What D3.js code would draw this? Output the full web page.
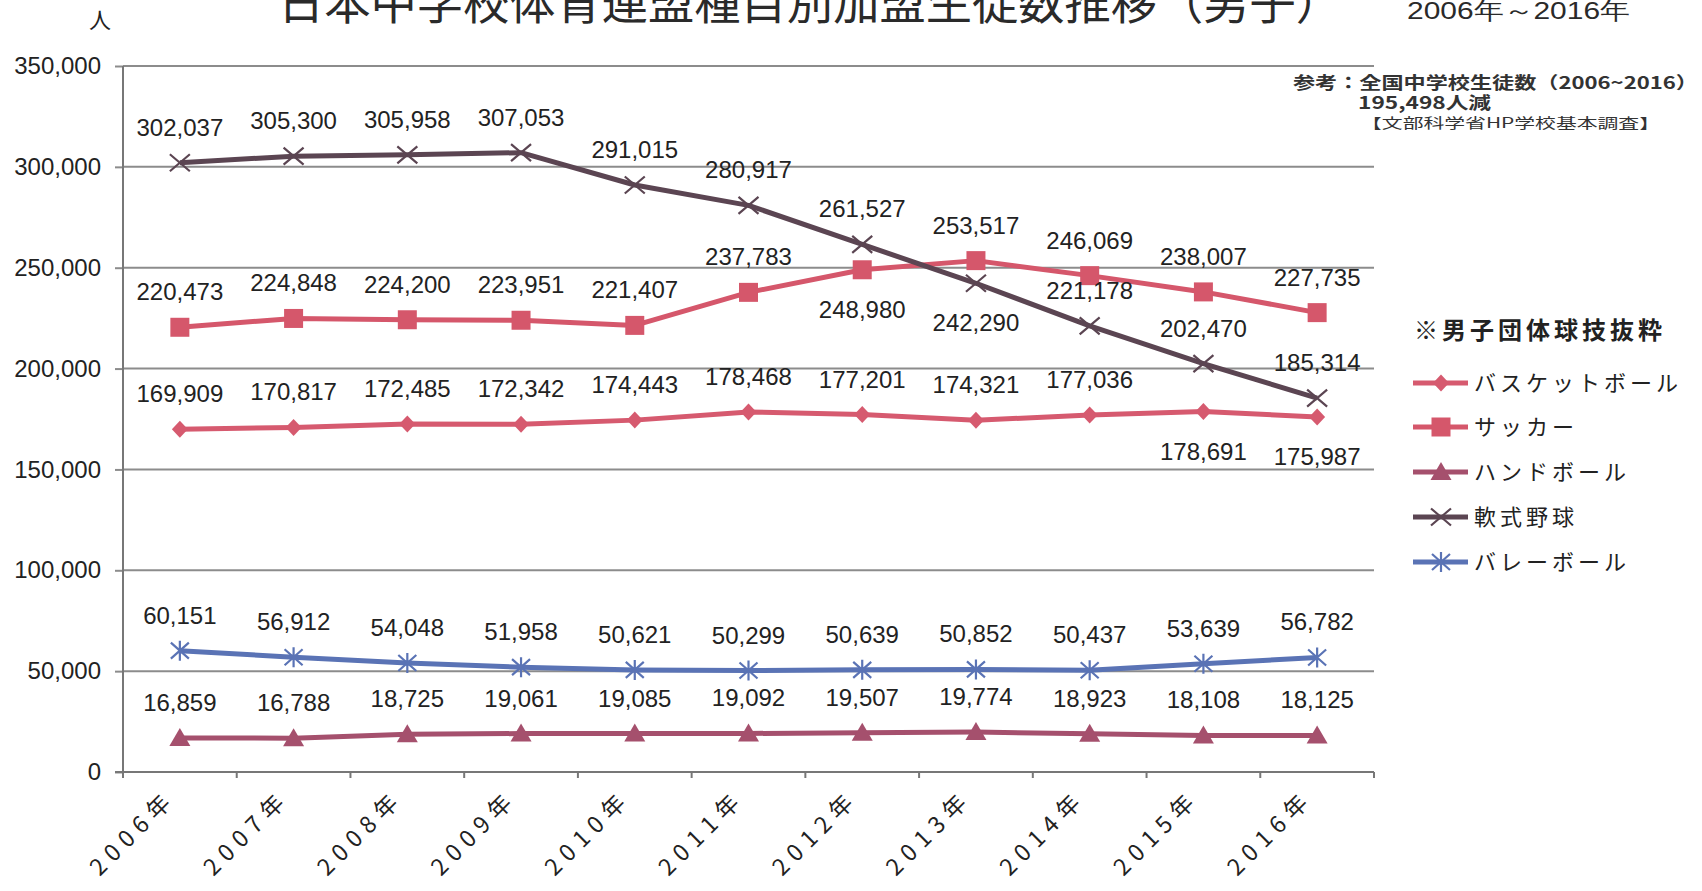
<!DOCTYPE html>
<html><head><meta charset="utf-8">
<script src="https://cdn.jsdelivr.net/npm/d3@7"></script>
<style>
html,body{margin:0;padding:0;background:#fff;}
svg{display:block;}
</style></head>
<body>
<svg id="chart" width="1702" height="891"></svg>
<script>
// ---------------- DATA ----------------
const years = ["2006","2007","2008","2009","2010","2011","2012","2013","2014","2015","2016"];
const yearSuffix = "年";
const yTicks = [0,50000,100000,150000,200000,250000,300000,350000];
const yTickLabels = ["0","50,000","100,000","150,000","200,000","250,000","300,000","350,000"];

const seriesNames = ["バスケットボール","サッカー","ハンドボール","軟式野球","バレーボール"];
const basketball = [169909,170817,172485,172342,174443,178468,177201,174321,177036,178691,175987];
const soccer     = [220473,224848,224200,223951,221407,237783,248980,253517,246069,238007,227735];
const handball   = [16859,16788,18725,19061,19085,19092,19507,19774,18923,18108,18125];
const baseball   = [302037,305300,305958,307053,291015,280917,261527,242290,221178,202470,185314];
const volleyball = [60151,56912,54048,51958,50621,50299,50639,50852,50437,53639,56782];
// indexes whose value label sits below the point
const basketballBelow = [9,10];
const soccerBelow = [6];
const handballBelow = [];
const baseballBelow = [7];
const volleyballBelow = [];

const titleText = "日本中学校体育連盟種目別加盟生徒数推移（男子）";
const periodText = "2006年～2016年";
const unitText = "人";
const legendTitle = "※男子団体球技抜粋";
const noteLines = ["参考：全国中学校生徒数（2006~2016）","195,498人減","【文部科学省HP学校基本調査】"];

// ---------------- STYLE / LAYOUT ----------------
const svg = d3.select("#chart");
const L = 123, R = 1374, T = 66, B = 772;
const numFont = "'Liberation Sans', Arial, sans-serif";
const jpFont = "'Noto Sans CJK JP', 'Noto Sans', sans-serif";
const gridColor = "#8c8c8c";

const x = d3.scaleBand().domain(years).range([L, R]);
const bw = x.bandwidth();
const cx = d => x(d) + bw / 2;
const y = d3.scaleLinear().domain([0, 350000]).range([B, T]);

// custom marker shapes
const shapes = {
  diamond: {draw(c){ c.moveTo(0,-8.5); c.lineTo(8,0); c.lineTo(0,8.5); c.lineTo(-8,0); c.closePath(); }},
  square:  {draw(c){ c.rect(-9.5,-9.5,19,19); }},
  triangle:{draw(c){ c.moveTo(0,-10); c.lineTo(10.5,8); c.lineTo(-10.5,8); c.closePath(); }},
  times:   {draw(c){ c.moveTo(-10,-8.5); c.lineTo(10,8.5); c.moveTo(10,-8.5); c.lineTo(-10,8.5); }},
  asterisk:{draw(c){ c.moveTo(0,-10); c.lineTo(0,10); c.moveTo(-9,-8); c.lineTo(9,8); c.moveTo(9,-8); c.lineTo(-9,8); }}
};

const series = [
  {name: seriesNames[0], values: basketball, below: basketballBelow, color: "#d65a6f", shape: "diamond", fill: true},
  {name: seriesNames[1], values: soccer,     below: soccerBelow,     color: "#d5576b", shape: "square", fill: true},
  {name: seriesNames[2], values: handball,   below: handballBelow,   color: "#a5506d", shape: "triangle", fill: true},
  {name: seriesNames[3], values: baseball,   below: baseballBelow,   color: "#5b4552", shape: "times", fill: false},
  {name: seriesNames[4], values: volleyball, below: volleyballBelow, color: "#5a73b5", shape: "asterisk", fill: false}
];

// ---------------- GRID & AXES ----------------
svg.append("g").selectAll("line").data(yTicks.filter(v => v > 0)).join("line")
  .attr("x1", L).attr("x2", R).attr("y1", d => y(d)).attr("y2", d => y(d))
  .attr("stroke", gridColor).attr("stroke-width", 2);

const yAxis = d3.axisLeft(y).tickValues(yTicks).tickSize(8).tickPadding(14)
  .tickFormat((d, i) => yTickLabels[i]);
const gy = svg.append("g").attr("transform", `translate(${L},0)`).call(yAxis);
gy.select(".domain").remove();
gy.selectAll(".tick line").attr("stroke", gridColor).attr("stroke-width", 2);
gy.selectAll(".tick text").attr("font-family", numFont).attr("font-size", 24).attr("fill", "#222");
svg.append("line").attr("x1", L).attr("x2", L).attr("y1", T).attr("y2", B + 4)
  .attr("stroke", "#777").attr("stroke-width", 2);

// x axis
svg.append("line").attr("x1", L - 8).attr("x2", R).attr("y1", B).attr("y2", B)
  .attr("stroke", "#777").attr("stroke-width", 2);
svg.append("g").selectAll("line").data(years.concat(["end"])).join("line")
  .attr("x1", (d, i) => L + i * bw).attr("x2", (d, i) => L + i * bw)
  .attr("y1", B).attr("y2", B + 6).attr("stroke", "#777").attr("stroke-width", 2);

svg.append("g").selectAll("text").data(years).join("text")
  .attr("transform", d => `translate(${cx(d) - 80},877) rotate(-45)`)
  .attr("font-family", jpFont).attr("font-size", 23).attr("fill", "#222")
  .attr("letter-spacing", 7)
  .text(d => d + yearSuffix);

// ---------------- LINES, MARKERS, LABELS ----------------
const line = d3.line().x((d, i) => cx(years[i])).y(d => y(d));
series.forEach(s => {
  const g = svg.append("g");
  g.append("path").datum(s.values).attr("d", line)
    .attr("fill", "none").attr("stroke", s.color).attr("stroke-width", 5)
    .attr("stroke-linejoin", "round");
  const sym = d3.symbol().type(shapes[s.shape]);
  g.selectAll("path.m").data(s.values).join("path").attr("class", "m")
    .attr("d", sym)
    .attr("transform", (d, i) => `translate(${cx(years[i])},${y(d)})`)
    .attr("fill", s.fill ? s.color : "none")
    .attr("stroke", s.fill ? "none" : s.color)
    .attr("stroke-width", s.fill ? 0 : 2.2);
  g.selectAll("text").data(s.values).join("text")
    .attr("x", (d, i) => cx(years[i]))
    .attr("y", (d, i) => y(d) + (s.below.includes(i) ? 48 : -27))
    .attr("text-anchor", "middle")
    .attr("font-family", numFont).attr("font-size", 24).attr("fill", "#222")
    .text(d => d3.format(",")(d));
});

// ---------------- TITLE & NOTES ----------------
svg.append("text").attr("x", 278).attr("y", 19)
  .attr("font-family", jpFont).attr("font-size", 46).attr("fill", "#2a2a2a")
  .attr("textLength", 1064).attr("lengthAdjust", "spacingAndGlyphs")
  .text(titleText);
svg.append("text").attr("x", 1407).attr("y", 19)
  .attr("font-family", numFont).attr("font-size", 24).attr("fill", "#2a2a2a")
  .attr("textLength", 223).attr("lengthAdjust", "spacingAndGlyphs")
  .text(periodText);
svg.append("text").attr("x", 100).attr("y", 28).attr("text-anchor", "middle")
  .attr("font-family", jpFont).attr("font-size", 22).attr("fill", "#222")
  .text(unitText);

svg.append("text").attr("x", 1293).attr("y", 89)
  .attr("font-family", jpFont).attr("font-size", 17).attr("font-weight", "bold").attr("fill", "#333")
  .attr("textLength", 405).attr("lengthAdjust", "spacingAndGlyphs").text(noteLines[0]);
svg.append("text").attr("x", 1358).attr("y", 109)
  .attr("font-family", jpFont).attr("font-size", 17).attr("font-weight", "bold").attr("fill", "#333")
  .attr("textLength", 133).attr("lengthAdjust", "spacingAndGlyphs").text(noteLines[1]);
svg.append("text").attr("x", 1361).attr("y", 128)
  .attr("font-family", jpFont).attr("font-size", 14).attr("fill", "#333")
  .attr("textLength", 299).attr("lengthAdjust", "spacingAndGlyphs").text(noteLines[2]);

// ---------------- LEGEND ----------------
svg.append("text").attr("x", 1414).attr("y", 339)
  .attr("font-family", jpFont).attr("font-size", 24).attr("font-weight", "bold").attr("fill", "#222")
  .attr("letter-spacing", 4).text(legendTitle);
const legendY = [383, 427, 472, 517, 562];
series.forEach((s, i) => {
  const ly = legendY[i];
  const g = svg.append("g");
  g.append("line").attr("x1", 1413).attr("x2", 1468).attr("y1", ly).attr("y2", ly)
    .attr("stroke", s.color).attr("stroke-width", 5);
  g.append("path").attr("d", d3.symbol().type(shapes[s.shape]))
    .attr("transform", `translate(1441,${ly})`)
    .attr("fill", s.fill ? s.color : "none")
    .attr("stroke", s.fill ? "none" : s.color)
    .attr("stroke-width", s.fill ? 0 : 2.2);
  g.append("text").attr("x", 1474).attr("y", ly + 8)
    .attr("font-family", jpFont).attr("font-size", 22).attr("fill", "#222")
    .attr("letter-spacing", 4).text(s.name);
});
</script>
</body></html>
